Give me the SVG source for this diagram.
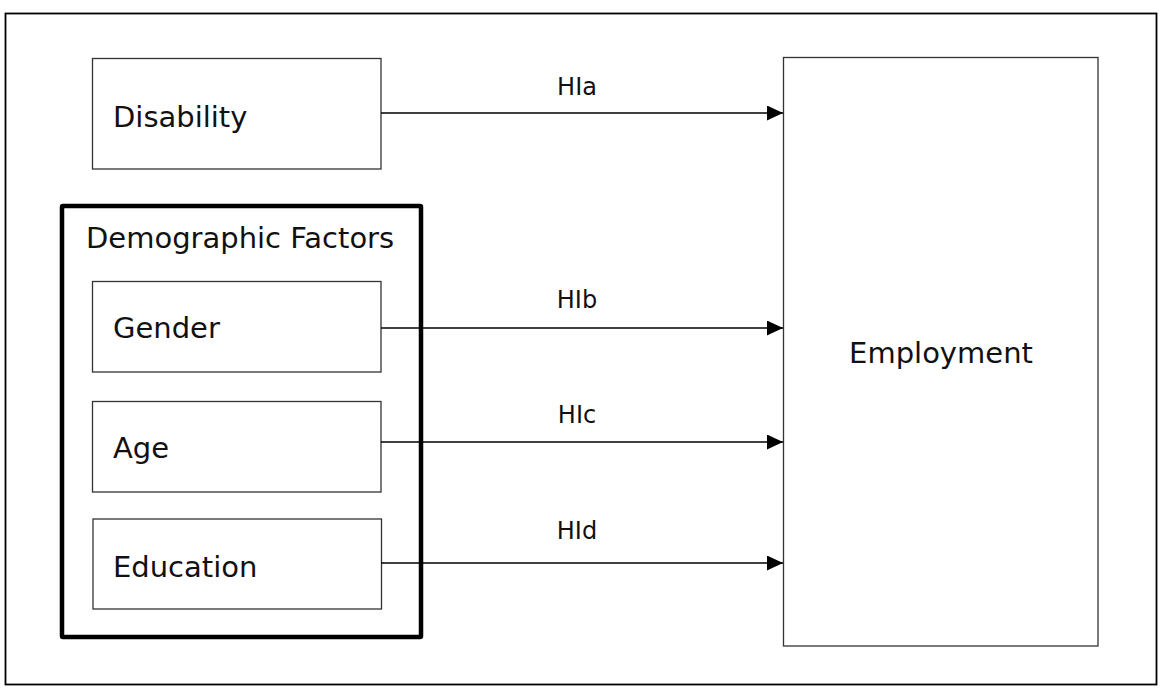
<svg xmlns="http://www.w3.org/2000/svg" width="1160" height="688" viewBox="0 0 1160 688">
<style>
.box{fill:#fff;stroke:#333;stroke-width:1.3}
.lbl{font-family:"DejaVu Sans",Verdana,sans-serif;font-size:29px;fill:#111}
.hl{font-family:"DejaVu Sans",Verdana,sans-serif;font-size:24px;fill:#111;text-anchor:middle}
.conn{stroke:#000;stroke-width:1.6;fill:none;marker-end:url(#arr)}
</style>
<defs>
<marker id="arr" markerUnits="userSpaceOnUse" markerWidth="17" markerHeight="17" refX="16" refY="7.5" orient="auto">
<path d="M0,0 L16,7.5 L0,15 Z" fill="#000"/>
</marker>
</defs>
<rect x="5.5" y="13.5" width="1151" height="671" fill="#fff" stroke="#000" stroke-width="1.8"/>
<g id="disability">
<rect class="box" x="92.5" y="58.5" width="288.5" height="110.5"/>
<text class="lbl" x="113" y="127">Disability</text>
</g>
<g id="demographic">
<rect x="62" y="206" width="359" height="431" fill="none" stroke="#000" stroke-width="4.5" rx="1"/>
<text class="lbl" x="86" y="248">Demographic Factors</text>
</g>
<g id="gender">
<rect class="box" x="92.5" y="281.5" width="288.5" height="90.5"/>
<text class="lbl" x="113" y="338">Gender</text>
</g>
<g id="age">
<rect class="box" x="92.5" y="401.5" width="288.5" height="90.5"/>
<text class="lbl" x="113" y="458">Age</text>
</g>
<g id="education">
<rect class="box" x="93" y="519" width="288.5" height="90"/>
<text class="lbl" x="113" y="577">Education</text>
</g>
<g id="employment">
<rect class="box" x="783.5" y="57.5" width="314.5" height="588.5"/>
<text class="lbl" x="941" y="363" text-anchor="middle">Employment</text>
</g>
<g id="connectors">
<line class="conn" x1="381" y1="113" x2="783" y2="113"/>
<text class="hl" x="577" y="95">HIa</text>
<line class="conn" x1="381" y1="328" x2="783" y2="328"/>
<text class="hl" x="577" y="308">HIb</text>
<line class="conn" x1="381" y1="442" x2="783" y2="442"/>
<text class="hl" x="577" y="423">HIc</text>
<line class="conn" x1="381" y1="563" x2="783" y2="563"/>
<text class="hl" x="577" y="539">HId</text>
</g>
</svg>
